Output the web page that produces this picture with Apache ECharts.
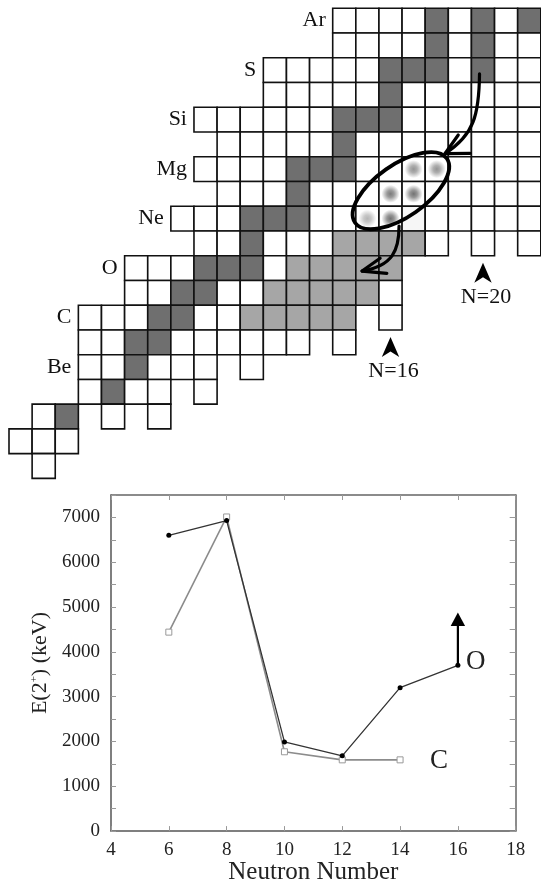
<!DOCTYPE html>
<html><head><meta charset="utf-8">
<script src="https://cdn.jsdelivr.net/npm/echarts@6/dist/echarts.min.js"></script>
<style>html,body{margin:0;padding:0;background:#fff;}#chart{width:541px;height:886px;}</style>
</head><body><div id="chart"></div>
<script>
// ---------- nuclide chart (top) ----------
const rowZ       = [18,17,16,15,14,13,12,11,10, 9, 8, 7, 6, 5, 4, 3, 2, 1, 0];
const rowSymbol  = ['Ar','','S','','Si','','Mg','','Ne','','O','','C','','Be','','','',''];
const rowFirstN  = [14,14,11,11, 8, 9, 8, 9, 7, 8, 5, 5, 3, 3, 3, 3, 1, 0, 1];
const rowLastN   = [22,22,22,22,22,22,22,22,22,22,16,16,16,14,10, 8, 6, 2, 1];
const missingCells = [[9,19],[9,21],[6,15],[5,13],[4,9],[3,7],[2,3],[2,5]];           // [Z,N]
const stableCells  = [[18,18],[18,20],[18,22],[17,18],[17,20],[16,16],[16,17],[16,18],[16,20],
                      [15,16],[14,14],[14,15],[14,16],[13,14],[12,12],[12,13],[12,14],[11,12],
                      [10,10],[10,11],[10,12],[9,10],[8,8],[8,9],[8,10],[7,7],[7,8],[6,6],[6,7],
                      [5,5],[5,6],[4,5],[3,4],[2,2]];                                         // [Z,N]
const shadedRanges = [[9,14,17],[8,12,16],[7,11,15],[6,10,14]];                             // [Z,fromN,toN]
const faintCells   = [[10,17]];                                                               // [Z,N]
const inversionDots = [[10,15,0.38],[10,16,0.72],[11,16,0.68],[11,17,0.72],[12,17,0.55],[12,18,0.55]]; // [Z,N,intensity]
const magicMarkers = [[16,6,'N=16'],[20,9,'N=20']];                                            // [N, lowest Z, text]

// ---------- E(2+) systematics (bottom) ----------
const oxygenN  = [6, 8, 10, 12, 14, 16];
const oxygenE2 = [6600, 6930, 1990, 1680, 3200, 3700];
const carbonN  = [6, 8, 10, 12, 14];
const carbonE2 = [4440, 7010, 1770, 1590, 1590];
const oxygenLimitArrowTop = 4880;
const xTickLabels = [4, 6, 8, 10, 12, 14, 16, 18];
const yTickLabels = [0, 1000, 2000, 3000, 4000, 5000, 6000, 7000];
const seriesTags = [['O', 16.62, 3780], ['C', 15.35, 1560]];

const SERIF = '"Liberation Serif","Times New Roman",serif';
const CELL_COLORS = ['#ffffff', '#6f6f6f', '#a6a6a6', '#f6f6f6'];

const has = (list, z, n) => list.some(c => c[0] === z && c[1] === n);
const cells = [];
rowZ.forEach((z, i) => {
  for (let n = rowFirstN[i]; n <= rowLastN[i]; n++) {
    if (has(missingCells, z, n)) continue;
    let t = 0;
    if (has(stableCells, z, n)) t = 1;
    else if (shadedRanges.some(r => r[0] === z && n >= r[1] && n <= r[2])) t = 2;
    else if (has(faintCells, z, n)) t = 3;
    cells.push([n, z, t]);
  }
});
const labelData = [];
rowZ.forEach((z, i) => { if (rowSymbol[i]) labelData.push([rowFirstN[i], z, i]); });

const chart = echarts.init(document.getElementById('chart'), null, {renderer: 'canvas'});

function cellRender(params, api) {
  const n = api.value(0), z = api.value(1), t = api.value(2);
  const tl = api.coord([n, z + 1]), br = api.coord([n + 1, z]);
  return {type: 'rect', shape: {x: tl[0], y: tl[1], width: br[0] - tl[0], height: br[1] - tl[1]},
          style: {fill: CELL_COLORS[t], stroke: '#111', lineWidth: 1.6}};
}
function dotRender(params, api) {
  const z = api.value(0), n = api.value(1), a = api.value(2);
  const c = api.coord([n + 0.5, z + 0.5]);
  return {type: 'circle', shape: {cx: c[0], cy: c[1], r: 9},
          style: {fill: {type: 'radial', x: 0.5, y: 0.5, r: 0.5, colorStops: [
            {offset: 0, color: 'rgba(60,60,60,' + a + ')'},
            {offset: 0.4, color: 'rgba(60,60,60,' + (a * 0.75) + ')'},
            {offset: 1, color: 'rgba(60,60,60,0)'}]}}};
}
function labelRender(params, api) {
  const n = api.value(0), z = api.value(1), i = api.value(2);
  const p = api.coord([n, z + 0.5]);
  return {type: 'text', style: {text: rowSymbol[i], x: p[0] - 7, y: p[1], font: '22px ' + SERIF,
          fill: '#111', align: 'right', verticalAlign: 'middle', textAlign: 'right', textVerticalAlign: 'middle'}};
}
function markerRender(params, api) {
  const n = api.value(0), z = api.value(1), i = params.dataIndex;
  const p = api.coord([n + 0.5, z]);
  const tx = p[0], ty = p[1] + 7;
  return {type: 'group', children: [
    {type: 'polygon', shape: {points: [[tx, ty], [tx - 8.7, ty + 20], [tx, ty + 14.5], [tx + 8.7, ty + 20]]}, style: {fill: '#000'}},
    {type: 'text', style: {text: magicMarkers[i][2], x: tx + 3, y: ty + 34, font: '22px ' + SERIF, fill: '#111',
      align: 'center', verticalAlign: 'middle', textAlign: 'center', textVerticalAlign: 'middle'}}
  ]};
}
function annotRender(params, api) {
  const P = (n, z) => api.coord([n, z]);
  const ec = P(16.95, 11.63);
  const a1s = P(20.35, 16.35), a1c1 = P(20.33, 14.69), a1c2 = P(20.11, 13.88), a1e = P(18.86, 13.13);
  const a1b1 = P(19.43, 13.88), a1b2 = P(19.94, 13.14);
  const a2s = P(16.87, 10.2), a2c1 = P(16.87, 9.23), a2c2 = P(16.61, 8.59), a2e = P(15.27, 8.38);
  const a2b1 = P(16.05, 8.9), a2b2 = P(16.34, 8.29);
  const st = {stroke: '#000', lineWidth: 3.2, fill: null, lineCap: 'round', lineJoin: 'round'};
  return {type: 'group', children: [
    {type: 'ellipse', x: ec[0], y: ec[1], rotation: 35 * Math.PI / 180,
     shape: {cx: 0, cy: 0, rx: 56, ry: 26}, style: Object.assign({}, st, {lineWidth: 3.8})},
    {type: 'bezierCurve', shape: {x1: a1s[0], y1: a1s[1], cpx1: a1c1[0], cpy1: a1c1[1], cpx2: a1c2[0], cpy2: a1c2[1], x2: a1e[0], y2: a1e[1]}, style: st},
    {type: 'polyline', shape: {points: [a1b1, a1e, a1b2]}, style: st},
    {type: 'bezierCurve', shape: {x1: a2s[0], y1: a2s[1], cpx1: a2c1[0], cpy1: a2c1[1], cpx2: a2c2[0], cpy2: a2c2[1], x2: a2e[0], y2: a2e[1]}, style: st},
    {type: 'polyline', shape: {points: [a2b1, a2e, a2b2]}, style: st}
  ]};
}
function limitArrowRender(params, api) {
  const p0 = api.coord([api.value(0), api.value(1)]);
  const p1 = api.coord([api.value(0), oxygenLimitArrowTop]);
  return {type: 'group', children: [
    {type: 'line', shape: {x1: p0[0], y1: p0[1], x2: p0[0], y2: p1[1] + 12}, style: {stroke: '#000', lineWidth: 2.2}},
    {type: 'polygon', shape: {points: [[p1[0], p1[1]], [p1[0] - 7.2, p1[1] + 13.5], [p1[0] + 7.2, p1[1] + 13.5]]}, style: {fill: '#000'}}
  ]};
}
function tagRender(params, api) {
  const p = api.coord([api.value(1), api.value(2)]);
  return {type: 'text', style: {text: seriesTags[params.dataIndex][0], x: p[0], y: p[1], font: '27px ' + SERIF, fill: '#222',
          align: 'center', verticalAlign: 'middle', textAlign: 'center', textVerticalAlign: 'middle'}};
}

const axisCol = '#666';
const option = {
  animation: false,
  backgroundColor: '#fff',
  grid: [
    {left: 9, top: 8.3, width: 531.8, height: 470.1},
    {left: 111, top: 495, width: 404.7, height: 336.7}
  ],
  xAxis: [
    {gridIndex: 0, type: 'value', min: 0, max: 23, show: false},
    {gridIndex: 1, type: 'value', min: 4, max: 18, interval: 2, position: 'bottom',
     axisLine: {show: true, onZero: false, lineStyle: {color: '#555', width: 1.5}},
     axisTick: {show: true, inside: true, length: 5, lineStyle: {color: '#999'}},
     axisLabel: {fontFamily: SERIF, fontSize: 19, color: '#222', margin: 9,
                 formatter: v => xTickLabels.indexOf(v) >= 0 ? String(v) : ''},
     splitLine: {show: false},
     name: 'Neutron Number', nameLocation: 'middle', nameGap: 28,
     nameTextStyle: {fontFamily: SERIF, fontSize: 25, color: '#222'}},
    {gridIndex: 1, type: 'value', min: 4, max: 18, interval: 2, position: 'top',
     axisLine: {show: true, onZero: false, lineStyle: {color: axisCol, width: 1.5}},
     axisTick: {show: true, inside: true, length: 5, lineStyle: {color: '#999'}},
     axisLabel: {show: false}, splitLine: {show: false}}
  ],
  yAxis: [
    {gridIndex: 0, type: 'value', min: 0, max: 19, show: false},
    {gridIndex: 1, type: 'value', min: 0, max: 7500, interval: 500, position: 'left',
     axisLine: {show: true, onZero: false, lineStyle: {color: '#555', width: 1.5}},
     axisTick: {show: true, inside: true, length: 5, lineStyle: {color: '#999'}},
     axisLabel: {fontFamily: SERIF, fontSize: 19, color: '#222', margin: 11,
                 formatter: v => yTickLabels.indexOf(v) >= 0 ? String(v) : ''},
     splitLine: {show: false},
     name: 'E(2{s|+}) (keV)', nameLocation: 'middle', nameGap: 58, nameRotate: 90,
     nameTextStyle: {fontFamily: SERIF, fontSize: 22, color: '#222',
                     rich: {s: {fontFamily: SERIF, fontSize: 11, color: '#222', padding: [0, 0, 12, 0]}}}},
    {gridIndex: 1, type: 'value', min: 0, max: 7500, interval: 500, position: 'right',
     axisLine: {show: true, onZero: false, lineStyle: {color: axisCol, width: 1.5}},
     axisTick: {show: true, inside: true, length: 6, lineStyle: {color: '#999'}},
     axisLabel: {show: false}, splitLine: {show: false}}
  ],
  series: [
    {type: 'custom', name: 'cells', xAxisIndex: 0, yAxisIndex: 0, data: cells, renderItem: cellRender, z: 2, silent: true, clip: false},
    {type: 'custom', name: 'dots', xAxisIndex: 0, yAxisIndex: 0, data: inversionDots, renderItem: dotRender, z: 3, silent: true, clip: false,
     encode: {x: 1, y: 0}},
    {type: 'custom', name: 'labels', xAxisIndex: 0, yAxisIndex: 0, data: labelData, renderItem: labelRender, z: 4, silent: true, clip: false},
    {type: 'custom', name: 'magic', xAxisIndex: 0, yAxisIndex: 0, data: magicMarkers.map(m => [m[0], m[1]]), renderItem: markerRender, z: 4, silent: true, clip: false},
    {type: 'custom', name: 'annot', xAxisIndex: 0, yAxisIndex: 0, data: [[17, 12]], renderItem: annotRender, z: 5, silent: true, clip: false},
    {type: 'line', name: 'C', xAxisIndex: 1, yAxisIndex: 1, data: carbonN.map((n, i) => [n, carbonE2[i]]),
     symbol: 'rect', symbolSize: 6, lineStyle: {color: '#8c8c8c', width: 1.6},
     itemStyle: {color: '#fff', borderColor: '#999', borderWidth: 1}, z: 3},
    {type: 'line', name: 'O', xAxisIndex: 1, yAxisIndex: 1, data: oxygenN.map((n, i) => [n, oxygenE2[i]]),
     symbol: 'circle', symbolSize: 5, lineStyle: {color: '#333', width: 1.3},
     itemStyle: {color: '#000', borderWidth: 0}, z: 4},
    {type: 'custom', name: 'limit', xAxisIndex: 1, yAxisIndex: 1, data: [[oxygenN[5], oxygenE2[5]]], renderItem: limitArrowRender, z: 5, silent: true, clip: false},
    {type: 'custom', name: 'tags', xAxisIndex: 1, yAxisIndex: 1, data: seriesTags.map(t => [0, t[1], t[2]]), renderItem: tagRender, z: 5, silent: true, clip: false,
     encode: {x: 1, y: 2}}
  ]
};
chart.setOption(option);
</script></body></html>
